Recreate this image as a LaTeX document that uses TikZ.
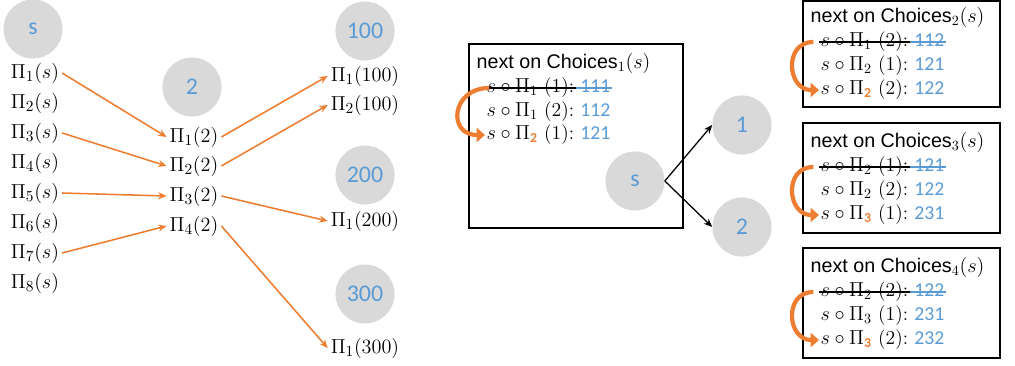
\documentclass[tikz,border=0pt]{standalone}
\usepackage{fontspec}
\usepackage{amsmath}
\newfontfamily\headfont{Liberation Sans}
\newfontfamily\digitfont{Carlito}
\definecolor{ChoiceBlue}{RGB}{91, 155, 213}
\definecolor{ChoiceOrange}{RGB}{237, 125, 49}
\definecolor{ChoiceGrey}{RGB}{217, 217, 217}
\usetikzlibrary{arrows.meta, positioning, calc}
\newcommand{\vnum}[1]{\textcolor{ChoiceBlue}{\digitfont #1}}
\newcommand{\hsub}[1]{\textcolor{ChoiceOrange}{\text{\digitfont\bfseries #1}}}

\begin{document}
\begin{tikzpicture}[x=0.025cm, y=-0.025cm,
    vertex/.style={circle, fill=ChoiceGrey, minimum size=42pt, inner sep=0pt, text=ChoiceBlue, font=\digitfont\fontsize{17}{20}\selectfont},
    action/.style={inner sep=2pt, font=\fontsize{15}{18}\selectfont},
    flow/.style={ChoiceOrange, line width=1.1pt, -{Stealth[length=6pt, width=5pt]}},
    branch/.style={black, line width=0.9pt, -{Stealth[length=6pt, width=5pt]}},
    frame/.style={draw=black, line width=1.4pt},
    title/.style={anchor=west, inner sep=1pt, font=\fontsize{14}{16}\selectfont},
    entry/.style={anchor=west, inner sep=1pt, font=\fontsize{14}{16}\selectfont},
    value/.style={anchor=base west, inner sep=1pt, font=\fontsize{14}{16}\selectfont},
    strike/.style={line width=0.8pt},
    nextarrow/.style={ChoiceOrange, line width=3pt, -{Triangle[length=6pt, width=10pt]}}]
  \useasboundingbox (0,0) rectangle (1015,366);

  % search tree, level by level
  \node[vertex] (s) at (33,29) {s};
  \node[action] (ls1) at (35,73) {$\Pi_1(s)$};
  \node[action] (ls2) at (35,103) {$\Pi_2(s)$};
  \node[action] (ls3) at (35,133) {$\Pi_3(s)$};
  \node[action] (ls4) at (35,163) {$\Pi_4(s)$};
  \node[action] (ls5) at (35,193) {$\Pi_5(s)$};
  \node[action] (ls6) at (35,223) {$\Pi_6(s)$};
  \node[action] (ls7) at (35,253) {$\Pi_7(s)$};
  \node[action] (ls8) at (35,283) {$\Pi_8(s)$};

  \node[vertex] (two) at (192,87) {2};
  \node[action] (lt1) at (194,137) {$\Pi_1(2)$};
  \node[action] (lt2) at (194,166) {$\Pi_2(2)$};
  \node[action] (lt3) at (194,196) {$\Pi_3(2)$};
  \node[action] (lt4) at (194,226) {$\Pi_4(2)$};

  \node[vertex] (h100) at (365,31) {100};
  \node[action] (la1) at (365,76) {$\Pi_1(100)$};
  \node[action] (la2) at (365,105) {$\Pi_2(100)$};
  \node[vertex] (h200) at (365,175) {200};
  \node[action] (lb1) at (365,221) {$\Pi_1(200)$};
  \node[vertex] (h300) at (365,294) {300};
  \node[action] (lc1) at (365,348) {$\Pi_1(300)$};

  \draw[flow] (ls1.east) -- (lt1.west);
  \draw[flow] (ls3.east) -- (lt2.west);
  \draw[flow] (ls5.east) -- (lt3.west);
  \draw[flow] (ls7.east) -- (lt4.west);
  \draw[flow] (lt1.east) -- (la1.west);
  \draw[flow] (lt2.east) -- (la2.west);
  \draw[flow] (lt3.east) -- (lb1.west);
  \draw[flow] (lt4.east) -- (lc1.west);

  % first choice set
  \draw[frame] (469,44) rectangle (683,228);
  \node[title] (t1) at (475,63) {\headfont next on Choices$_1(s)$};
  \node[entry] (e11) at (485,88) {$s\circ\Pi_1$ (1):};
  \node[value] (v11) at ($(e11.base east)+(2pt,0)$) {\vnum{111}};
  \node[entry] (e12) at (485,112) {$s\circ\Pi_1$ (2):};
  \node[value] (v12) at ($(e12.base east)+(2pt,0)$) {\vnum{112}};
  \node[entry] (e13) at (485,135) {$s\circ\Pi_{\hsub{2}}$ (1):};
  \node[value] (v13) at ($(e13.base east)+(2pt,0)$) {\vnum{121}};
  \draw[strike] (e11.west) -- (e11.east);
  \draw[strike, ChoiceBlue] (e11.east) -- (e11.east -| v11.east);
  \draw[nextarrow] ($(e11.west)+(3pt,0)$) .. controls +(-38,0) and +(-38,0) .. (e13.west);

  \node[vertex] (sm) at (635,181) {s};
  \node[vertex] (one) at (742,125) {1};
  \node[vertex] (twob) at (742,227) {2};
  \draw[branch] (sm.east) -- (one.west);
  \draw[branch] (sm.east) -- (twob.west);

  % second choice set
  \draw[frame] (803,1) rectangle (1000,107);
  \node[title] (t2) at (809,17) {\headfont next on Choices$_2(s)$};
  \node[entry] (e21) at (819,42) {$s\circ\Pi_1$ (2):};
  \node[value] (v21) at ($(e21.base east)+(2pt,0)$) {\vnum{112}};
  \node[entry] (e22) at (819,66) {$s\circ\Pi_2$ (1):};
  \node[value] (v22) at ($(e22.base east)+(2pt,0)$) {\vnum{121}};
  \node[entry] (e23) at (819,90) {$s\circ\Pi_{\hsub{2}}$ (2):};
  \node[value] (v23) at ($(e23.base east)+(2pt,0)$) {\vnum{122}};
  \draw[strike] (e21.west) -- (e21.east);
  \draw[strike, ChoiceBlue] (e21.east) -- (e21.east -| v21.east);
  \draw[nextarrow] ($(e21.west)+(-4pt,0)$) .. controls +(-30,0) and +(-32,0) .. (e23.west);

  % third choice set
  \draw[frame] (803,123) rectangle (1000,233);
  \node[title] (t3) at (809,142) {\headfont next on Choices$_3(s)$};
  \node[entry] (e31) at (819,167) {$s\circ\Pi_2$ (1):};
  \node[value] (v31) at ($(e31.base east)+(2pt,0)$) {\vnum{121}};
  \node[entry] (e32) at (819,191) {$s\circ\Pi_2$ (2):};
  \node[value] (v32) at ($(e32.base east)+(2pt,0)$) {\vnum{122}};
  \node[entry] (e33) at (819,215) {$s\circ\Pi_{\hsub{3}}$ (1):};
  \node[value] (v33) at ($(e33.base east)+(2pt,0)$) {\vnum{231}};
  \draw[strike] (e31.west) -- (e31.east);
  \draw[strike, ChoiceBlue] (e31.east) -- (e31.east -| v31.east);
  \draw[nextarrow] ($(e31.west)+(-4pt,0)$) .. controls +(-30,0) and +(-32,0) .. (e33.west);

  % fourth choice set
  \draw[frame] (803,248) rectangle (1000,358);
  \node[title] (t4) at (809,267) {\headfont next on Choices$_4(s)$};
  \node[entry] (e41) at (819,292) {$s\circ\Pi_2$ (2):};
  \node[value] (v41) at ($(e41.base east)+(2pt,0)$) {\vnum{122}};
  \node[entry] (e42) at (819,316) {$s\circ\Pi_3$ (1):};
  \node[value] (v42) at ($(e42.base east)+(2pt,0)$) {\vnum{231}};
  \node[entry] (e43) at (819,340) {$s\circ\Pi_{\hsub{3}}$ (2):};
  \node[value] (v43) at ($(e43.base east)+(2pt,0)$) {\vnum{232}};
  \draw[strike] (e41.west) -- (e41.east);
  \draw[strike, ChoiceBlue] (e41.east) -- (e41.east -| v41.east);
  \draw[nextarrow] ($(e41.west)+(-4pt,0)$) .. controls +(-30,0) and +(-32,0) .. (e43.west);
\end{tikzpicture}
\end{document}
